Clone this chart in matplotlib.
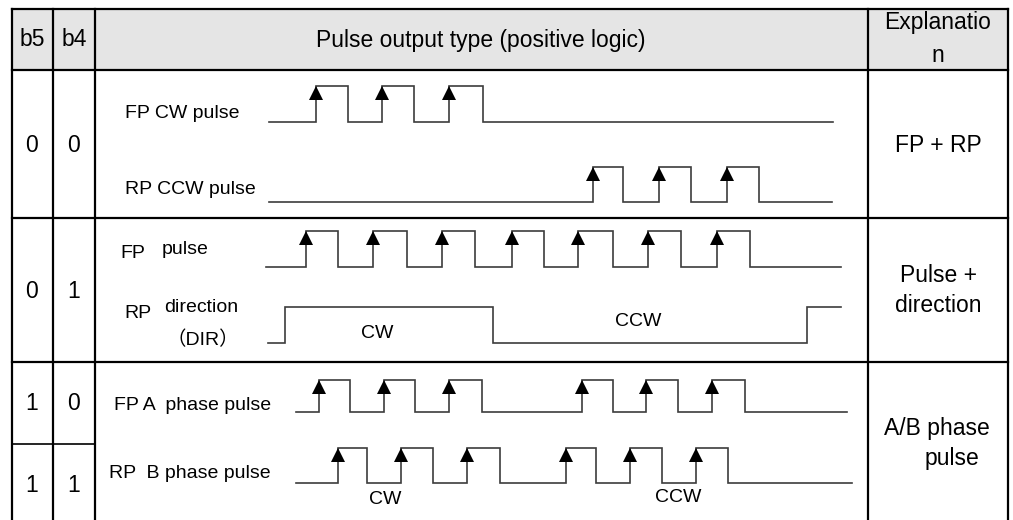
import matplotlib.pyplot as plt
import matplotlib.patches as patches

plt.rcParams["font.family"] = ["Liberation Sans", "Noto Sans CJK SC", "DejaVu Sans"]

# header texts
HEADERS = ["b5", "b4", "Pulse output type (positive logic)", "Explanatio", "n"]

# mode bits per row (b5, b4)
BITS = [("0", "0"), ("0", "1"), ("1", "0"), ("1", "1")]

# explanation column
EXPLAIN = ["FP + RP", "Pulse +", "direction", "A/B phase", "pulse"]

# signal edge positions (time axis of the diagram), first level is low
FP_CW_EDGES = [316, 348, 382, 414, 449, 483]
RP_CCW_EDGES = [593, 623, 659, 691, 727, 759]
FP_PULSE_EDGES = [306, 338, 373, 407, 442, 475, 512, 544, 578, 613, 648, 681, 717, 750]
RP_DIR_EDGES = [285, 493, 807]
FP_A_EDGES = [319, 350, 384, 415, 449, 482, 582, 613, 646, 678, 712, 745]
RP_B_EDGES = [338, 367, 401, 433, 467, 500, 566, 596, 630, 662, 696, 728]

WAVE_COLOR = "#3c3c3c"
BIG = 16.5
SMALL = 14


def draw_wave(ax, x0, x1, edges, y_low, y_high, arrows=True):
    xs, ys = [x0], [0]
    level = 0
    for e in edges:
        xs += [e, e]
        ys += [level, 1 - level]
        level = 1 - level
    xs.append(x1)
    ys.append(level)
    ys = [y_high if v else y_low for v in ys]
    ax.plot(xs, ys, color=WAVE_COLOR, lw=1.2, solid_joinstyle="miter")
    if arrows:
        rises = edges[0::2]
        ax.plot(rises, [y_high + 6.5] * len(rises), "^", color="black",
                markersize=9.5, markeredgewidth=0)


fig = plt.figure(figsize=(10.13, 5.2), dpi=100)
ax = fig.add_axes([0, 0, 1, 1])
ax.set_xlim(0, 1013)
ax.set_ylim(520, 0)
ax.axis("off")

# table frame
left, right, top, bottom = 12, 1008, 9, 520
ax.add_patch(patches.Rectangle((left, top), right - left, 61, facecolor="#e5e5e5",
                               edgecolor="none"))
lw = 1.6
ax.plot([left, right], [top, top], color="black", lw=lw)
for x in [left, 53, 95, 868, right]:
    ax.plot([x, x], [top, bottom], color="black", lw=lw)
for y in [70, 218, 362]:
    ax.plot([left, right], [y, y], color="black", lw=lw)
ax.plot([left, 95], [444, 444], color="black", lw=1.2)

# header
cen = dict(fontsize=BIG, ha="center", va="center")
ax.text(32, 40, HEADERS[0], **cen)
ax.text(74, 40, HEADERS[1], **cen)
ax.text(481, 40, HEADERS[2], **cen)
ax.text(938, 23, HEADERS[3], **cen)
ax.text(938, 55, HEADERS[4], **cen)

# bits
for (b5, b4), y in zip(BITS, [145, 292, 403, 485]):
    ax.text(32, y, b5, **cen)
    ax.text(74, y, b4, **cen)

# explanation
ax.text(938, 145, EXPLAIN[0], **cen)
ax.text(938, 276, EXPLAIN[1], **cen)
ax.text(938, 305, EXPLAIN[2], **cen)
ax.text(937, 429, EXPLAIN[3], **cen)
ax.text(952, 458, EXPLAIN[4], **cen)

# signal labels
lab = dict(fontsize=SMALL, ha="left", va="center")
ax.text(125, 113, "FP CW pulse", **lab)
ax.text(125, 190, "RP CCW pulse", **lab)
ax.text(120, 253, "FP", **lab)
ax.text(162, 249, "pulse", **lab)
ax.text(124, 314, "RP", **lab)
ax.text(164, 307, "direction", **lab)
ax.text(203, 340, "（DIR）", fontsize=SMALL, ha="center", va="center")
ax.text(114, 405, "FP A  phase pulse", **lab)
ax.text(109, 473, "RP  B phase pulse", **lab)

# waveforms
draw_wave(ax, 269, 833, FP_CW_EDGES, 122, 86)
draw_wave(ax, 269, 832, RP_CCW_EDGES, 202, 167)
draw_wave(ax, 266, 841, FP_PULSE_EDGES, 267, 231)
draw_wave(ax, 268, 841, RP_DIR_EDGES, 343, 307, arrows=False)
draw_wave(ax, 296, 847, FP_A_EDGES, 412, 380)
draw_wave(ax, 296, 852, RP_B_EDGES, 483, 448)

# direction labels
ax.text(377, 333, "CW", fontsize=SMALL, ha="center", va="center")
ax.text(638, 322, "CCW", fontsize=SMALL, ha="center", va="center")
ax.text(385, 500, "CW", fontsize=SMALL, ha="center", va="center")
ax.text(678, 498, "CCW", fontsize=SMALL, ha="center", va="center")

fig.savefig("out.png", dpi=100)
